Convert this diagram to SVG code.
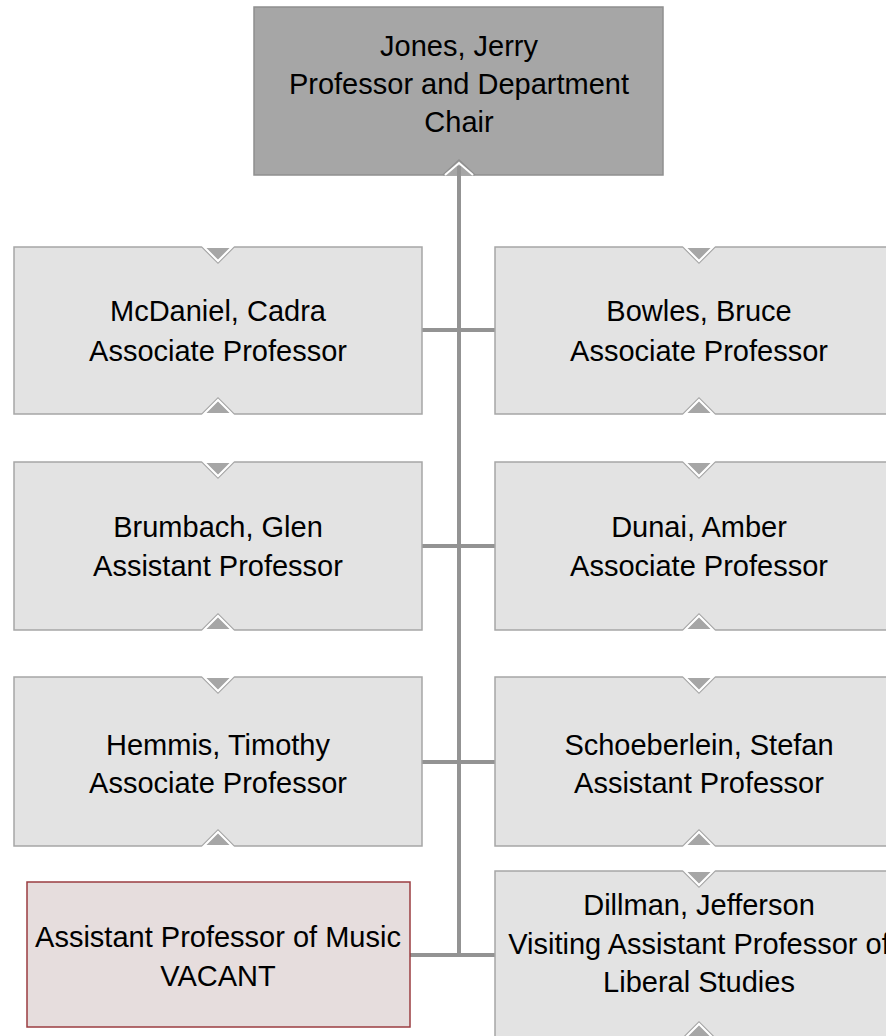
<svg xmlns="http://www.w3.org/2000/svg" width="886" height="1036" viewBox="0 0 886 1036">
<style>
.box{fill:#e3e3e3;stroke:#a6a6a6;stroke-width:1.5}
.chair{fill:#a6a6a6;stroke:#8f8f8f;stroke-width:1.5}
.vac{fill:#e6dddd;stroke:#9b3c40;stroke-width:1.5}
.t{font-family:"Liberation Sans",Arial,sans-serif;font-size:29px;fill:#000;text-anchor:middle}
.conn{stroke:#939393;stroke-width:4;fill:none}
.no{fill:#a6a6a6;stroke:#fff;stroke-width:2}
.nout{fill:none;stroke:#a6a6a6;stroke-width:1.5}
</style>
<g id="connectors">
<line class="conn" x1="459" y1="166" x2="459" y2="957"/>
<line class="conn" x1="422" y1="330" x2="496" y2="330"/>
<line class="conn" x1="422" y1="546" x2="496" y2="546"/>
<line class="conn" x1="422" y1="762" x2="496" y2="762"/>
<line class="conn" x1="410" y1="955" x2="496" y2="955"/>
</g>
<g id="jones">
<rect class="chair" x="254" y="7" width="409" height="168"/>
<polyline points="443,175 459,160 475,175" fill="#a6a6a6" stroke="#8f8f8f" stroke-width="1.5"/>
<polyline points="445,175 459,163 473,175" fill="#a6a6a6" stroke="#fff" stroke-width="2"/>
<line class="conn" x1="459" y1="166" x2="459" y2="177"/>
<text class="t" x="459" y="56">Jones, Jerry</text>
<text class="t" x="459" y="94">Professor and Department</text>
<text class="t" x="459" y="132">Chair</text>
</g>
<g id="mcdaniel">
<rect class="box" x="14" y="247" width="408" height="167"/>
<polyline class="nout" points="202,247 218,263 234,247"/>
<polygon class="no" points="204,247 232,247 218,261"/>
<polyline class="nout" points="202,414 218,398 234,414"/>
<polygon class="no" points="204,414 232,414 218,400"/>
<text class="t" x="218" y="321">McDaniel, Cadra</text>
<text class="t" x="218" y="361">Associate Professor</text>
</g>
<g id="bowles">
<rect class="box" x="495" y="247" width="408" height="167"/>
<polyline class="nout" points="683,247 699,263 715,247"/>
<polygon class="no" points="685,247 713,247 699,261"/>
<polyline class="nout" points="683,414 699,398 715,414"/>
<polygon class="no" points="685,414 713,414 699,400"/>
<text class="t" x="699" y="321">Bowles, Bruce</text>
<text class="t" x="699" y="361">Associate Professor</text>
</g>
<g id="brumbach">
<rect class="box" x="14" y="462" width="408" height="168"/>
<polyline class="nout" points="202,462 218,478 234,462"/>
<polygon class="no" points="204,462 232,462 218,476"/>
<polyline class="nout" points="202,630 218,614 234,630"/>
<polygon class="no" points="204,630 232,630 218,616"/>
<text class="t" x="218" y="537">Brumbach, Glen</text>
<text class="t" x="218" y="576">Assistant Professor</text>
</g>
<g id="dunai">
<rect class="box" x="495" y="462" width="408" height="168"/>
<polyline class="nout" points="683,462 699,478 715,462"/>
<polygon class="no" points="685,462 713,462 699,476"/>
<polyline class="nout" points="683,630 699,614 715,630"/>
<polygon class="no" points="685,630 713,630 699,616"/>
<text class="t" x="699" y="537">Dunai, Amber</text>
<text class="t" x="699" y="576">Associate Professor</text>
</g>
<g id="hemmis">
<rect class="box" x="14" y="677" width="408" height="169"/>
<polyline class="nout" points="202,677 218,693 234,677"/>
<polygon class="no" points="204,677 232,677 218,691"/>
<polyline class="nout" points="202,846 218,830 234,846"/>
<polygon class="no" points="204,846 232,846 218,832"/>
<text class="t" x="218" y="755">Hemmis, Timothy</text>
<text class="t" x="218" y="793">Associate Professor</text>
</g>
<g id="schoeberlein">
<rect class="box" x="495" y="677" width="408" height="169"/>
<polyline class="nout" points="683,677 699,693 715,677"/>
<polygon class="no" points="685,677 713,677 699,691"/>
<polyline class="nout" points="683,846 699,830 715,846"/>
<polygon class="no" points="685,846 713,846 699,832"/>
<text class="t" x="699" y="755">Schoeberlein, Stefan</text>
<text class="t" x="699" y="793">Assistant Professor</text>
</g>
<g id="vacant">
<rect class="vac" x="27" y="882" width="383" height="145"/>
<text class="t" x="218" y="947">Assistant Professor of Music</text>
<text class="t" x="218" y="986">VACANT</text>
</g>
<g id="dillman">
<rect class="box" x="495" y="871" width="408" height="167"/>
<polyline class="nout" points="683,871 699,887 715,871"/>
<polygon class="no" points="685,871 713,871 699,885"/>
<polyline class="nout" points="683,1038 699,1022 715,1038"/>
<polygon class="no" points="685,1038 713,1038 699,1024"/>
<text class="t" x="699" y="915">Dillman, Jefferson</text>
<text class="t" x="699" y="954">Visiting Assistant Professor of</text>
<text class="t" x="699" y="992">Liberal Studies</text>
</g>
</svg>
